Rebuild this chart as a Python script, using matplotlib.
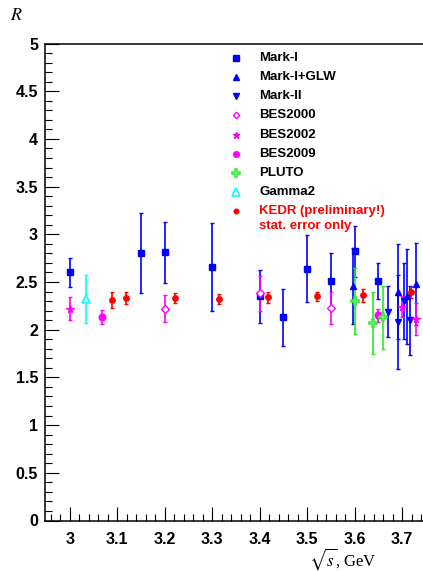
import matplotlib
matplotlib.use("Agg")
import matplotlib.pyplot as plt
from matplotlib.ticker import MultipleLocator, FixedLocator, FixedFormatter
from matplotlib.lines import Line2D

# ---------------- data ----------------
mark1_x = [3.00, 3.15, 3.20, 3.30, 3.40, 3.45, 3.50, 3.55, 3.60, 3.65]
mark1_y = [2.60, 2.80, 2.81, 2.66, 2.35, 2.13, 2.64, 2.51, 2.82, 2.51]
mark1_e = [0.15, 0.42, 0.32, 0.46, 0.28, 0.30, 0.35, 0.29, 0.27, 0.19]

glw_x = [3.597, 3.692, 3.710, 3.730]
glw_y = [2.46, 2.40, 2.35, 2.48]
glw_e = [0.40, 0.50, 0.50, 0.43]

mark2_x = [3.670, 3.692, 3.704, 3.716]
mark2_y = [2.19, 2.08, 2.30, 2.10]
mark2_e = [0.265, 0.49, 0.40, 0.36]

bes2000_x = [3.20, 3.40, 3.55]
bes2000_y = [2.22, 2.38, 2.23]
bes2000_e = [0.14, 0.18, 0.17]

bes2002_x = [3.00, 3.700, 3.730]
bes2002_y = [2.22, 2.24, 2.11]
bes2002_e = [0.12, 0.11, 0.165]

bes2009_x = [3.068, 3.649]
bes2009_y = [2.13, 2.15]
bes2009_e = [0.075, 0.065]

pluto_x = [3.600, 3.639, 3.659]
pluto_y = [2.30, 2.07, 2.13]
pluto_e = [0.35, 0.32, 0.33]

gamma2_x = [3.034]
gamma2_y = [2.32]
gamma2_e = [0.25]

kedr_x = [3.088, 3.119, 3.222, 3.314, 3.418, 3.520, 3.617, 3.719]
kedr_y = [2.31, 2.33, 2.33, 2.32, 2.34, 2.35, 2.36, 2.39]
kedr_e = [0.085, 0.06, 0.055, 0.055, 0.06, 0.05, 0.07, 0.055]

legend_labels = ["Mark-I", "Mark-I+GLW", "Mark-II", "BES2000", "BES2002",
                 "BES2009", "PLUTO", "Gamma2",
                 "KEDR (preliminary!)\nstat. error only"]

x_ticks = [3.0, 3.1, 3.2, 3.3, 3.4, 3.5, 3.6, 3.7]
x_ticklabels = ["3", "3.1", "3.2", "3.3", "3.4", "3.5", "3.6", "3.7"]
y_ticks = [0, 0.5, 1, 1.5, 2, 2.5, 3, 3.5, 4, 4.5, 5]
y_ticklabels = ["0", "0.5", "1", "1.5", "2", "2.5", "3", "3.5", "4", "4.5", "5"]

# ---------------- figure ----------------
W, H = 423, 571
fig = plt.figure(figsize=(W / 100, H / 100), dpi=100)
ax = fig.add_axes([45 / W, (H - 520.5) / H, (426 - 45) / W, (520.5 - 43.5) / H])
ax.set_xlim(2.948, 3.750)
ax.set_ylim(0, 5)

BLUE = "#0000ff"
MAG = "#ff00ff"
GREEN = "#22ee22"
CYAN = "#00ffff"
RED = "#ff0000"

series = [
    (mark1_x, mark1_y, mark1_e, dict(marker="s", ms=4.9, color=BLUE, mfc=BLUE, mec=BLUE), BLUE),
    (glw_x, glw_y, glw_e, dict(marker="^", ms=5.0, color=BLUE, mfc=BLUE, mec=BLUE), BLUE),
    (mark2_x, mark2_y, mark2_e, dict(marker="v", ms=5.0, color=BLUE, mfc=BLUE, mec=BLUE), BLUE),
    (bes2000_x, bes2000_y, bes2000_e, dict(marker="D", ms=3.8, color=MAG, mfc="white", mec=MAG, mew=1.0), MAG),
    (bes2002_x, bes2002_y, bes2002_e, dict(marker="*", ms=5.5, color=MAG, mfc=MAG, mec=MAG), MAG),
    (bes2009_x, bes2009_y, bes2009_e, dict(marker="o", ms=4.8, color=MAG, mfc=MAG, mec=MAG), MAG),
    (pluto_x, pluto_y, pluto_e, dict(marker="P", ms=6.2, color=GREEN, mfc="white", mec=GREEN, mew=1.1), GREEN),
    (gamma2_x, gamma2_y, gamma2_e, dict(marker="^", ms=6.0, color=CYAN, mfc="white", mec=CYAN, mew=1.2), CYAN),
    (kedr_x, kedr_y, kedr_e, dict(marker="o", ms=3.9, color=RED, mfc=RED, mec=RED), RED),
]

for xs, ys, es, mk, col in series:
    ax.errorbar(xs, ys, yerr=es, fmt="none", ecolor=col, elinewidth=1.2,
                capsize=1.5, capthick=1.0, zorder=2)
    ax.plot(xs, ys, linestyle="none", zorder=3, **mk)

# ---------------- axes styling ----------------
for s in ["left", "bottom", "top"]:
    ax.spines[s].set_linewidth(1.1)
ax.spines["right"].set_visible(False)

ax.xaxis.set_major_locator(FixedLocator(x_ticks))
ax.xaxis.set_major_formatter(FixedFormatter(x_ticklabels))
ax.xaxis.set_minor_locator(MultipleLocator(0.02))
ax.yaxis.set_major_locator(FixedLocator(y_ticks))
ax.yaxis.set_major_formatter(FixedFormatter(y_ticklabels))
ax.yaxis.set_minor_locator(MultipleLocator(0.1))

ax.tick_params(which="both", direction="in", top=False, right=False, width=0.8)
ax.tick_params(which="major", length=10)
ax.tick_params(which="minor", length=5)
ax.tick_params(axis="x", which="major", pad=8)
ax.tick_params(axis="y", which="major", pad=5)
for lab in ax.get_xticklabels() + ax.get_yticklabels():
    lab.set_fontfamily("Liberation Sans")
    lab.set_fontweight("bold")
    lab.set_fontsize(11.5)

plt.rcParams["mathtext.fontset"] = "stix"
fig.text(10 / W, 1 - 15 / H, r"$R$", fontsize=13, family="Liberation Serif",
         ha="left", va="center")
fig.text(377 / W, 1 - 566 / H, r"$\sqrt{s}$, GeV", fontsize=12,
         family="Liberation Serif", ha="right", va="baseline")

# ---------------- legend ----------------
leg_x_marker = 236 / W
leg_x_text = 259 / W
row0 = 57.7
step = 19.2
for i, ((xs, ys, es, mk, col), lab) in enumerate(zip(series, legend_labels)):
    yc = 1 - (row0 + step * i) / H
    m = dict(mk)
    m["ms"] = m["ms"] * 0.85
    fig.add_artist(Line2D([leg_x_marker], [yc], transform=fig.transFigure,
                          linestyle="none", **m))
    tcol = RED if i == len(series) - 1 else "black"
    lines = lab.split("\n")
    for j, line in enumerate(lines):
        fig.text(leg_x_text, yc - 14.3 * j / H, line, color=tcol, fontsize=9.5,
                 family="Liberation Sans", fontweight="bold", va="center")

fig.savefig("out.png", dpi=100)
